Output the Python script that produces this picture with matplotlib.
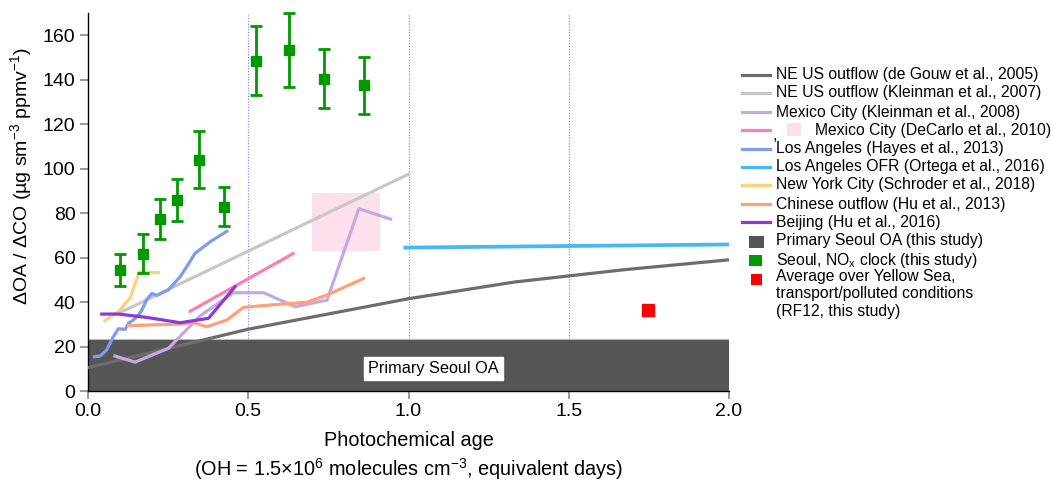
import matplotlib
matplotlib.use("Agg")
import matplotlib.pyplot as plt
from matplotlib.lines import Line2D
from matplotlib.patches import Rectangle

plt.rcParams['font.family'] = ['Liberation Sans', 'DejaVu Sans']

# ---- data ----
degouw_x = [0.0, 0.5, 1.0, 1.33, 1.67, 2.0]
degouw_y = [10.5, 27.8, 41.5, 49.0, 54.5, 59.0]

kleinman07_x = [0.092, 1.0]
kleinman07_y = [34.7, 97.5]

kleinman08_x = [0.084, 0.147, 0.251, 0.35, 0.454, 0.548, 0.647, 0.746, 0.845, 0.944]
kleinman08_y = [15.7, 13.0, 19.2, 33.8, 44.2, 44.2, 37.9, 40.9, 82.0, 77.3]

decarlo_x = [0.319, 0.64]
decarlo_y = [35.9, 61.8]
decarlo_box_x = [0.70, 0.91]
decarlo_box_y = [63.0, 89.0]

hayes_x = [0.02, 0.0375, 0.058, 0.079, 0.095, 0.116, 0.126, 0.142, 0.157, 0.168,
           0.183, 0.199, 0.215, 0.251, 0.2875, 0.308, 0.334, 0.381, 0.433]
hayes_y = [15.4, 15.7, 18.4, 24.4, 28.0, 27.7, 30.4, 32.0, 34.0, 36.4,
           41.0, 43.9, 43.0, 45.5, 51.4, 55.9, 61.9, 67.1, 71.8]

ortega_x = [0.99, 2.0]
ortega_y = [64.5, 65.9]

schroder_x = [0.053, 0.095, 0.131, 0.16, 0.22]
schroder_y = [31.6, 35.7, 41.7, 53.6, 53.2]

hu13_x = [0.126, 0.2875, 0.329, 0.371, 0.433, 0.485, 0.569, 0.683, 0.746, 0.86]
hu13_y = [29.4, 30.1, 30.7, 28.9, 31.9, 37.6, 38.7, 39.9, 43.2, 50.6]

hu16_x = [0.043, 0.095, 0.183, 0.2875, 0.376, 0.459]
hu16_y = [34.6, 34.6, 33.1, 30.7, 32.7, 46.9]

primary_oa = 23.3

nox_x = [0.10, 0.173, 0.225, 0.279, 0.346, 0.423, 0.525, 0.627, 0.7375, 0.8625]
nox_y = [54.4, 61.6, 77.3, 85.8, 104.1, 82.8, 148.6, 153.3, 140.5, 137.7]
nox_hi = [61.4, 70.6, 86.2, 95.3, 117.0, 91.8, 164.0, 170.0, 153.7, 150.4]
nox_lo = [47.2, 52.9, 68.4, 76.3, 91.4, 74.2, 133.3, 136.5, 127.5, 124.8]

rf12_x = [1.746]
rf12_y = [36.4]

legend_labels = [
    "NE US outflow (de Gouw et al., 2005)",
    "NE US outflow (Kleinman et al., 2007)",
    "Mexico City (Kleinman et al., 2008)",
    "Mexico City (DeCarlo et al., 2010)",
    "Los Angeles (Hayes et al., 2013)",
    "Los Angeles OFR (Ortega et al., 2016)",
    "New York City (Schroder et al., 2018)",
    "Chinese outflow (Hu et al., 2013)",
    "Beijing (Hu et al., 2016)",
    "Primary Seoul OA (this study)",
    "Seoul, NO$_{\\mathregular{x}}$ clock (this study)",
    "Average over Yellow Sea,\ntransport/polluted conditions\n(RF12, this study)",
]

# ---- colours ----
c_degouw = "#6d6d6d"
c_kl07 = "#c8c8c8"
c_kl08 = "#c4a9e6"
c_dec = "#ff7eb0"
c_decbox = "#fde0ec"
c_hayes = "#7b9cf0"
c_ortega = "#45b8f5"
c_schr = "#ffd080"
c_hu13 = "#ffa077"
c_hu16 = "#8a3ad8"
c_prim = "#555555"
c_green = "#009900"
c_red = "#ff0000"

W, H = 1051, 483
fig = plt.figure(figsize=(W / 100, H / 100), dpi=100)
ax = fig.add_axes([88 / W, 92 / H, 641 / W, 378 / H])

lw = 2.3
# primary OA band
ax.axhspan(0, primary_oa, color=c_prim, zorder=1, lw=0)
ax.axhline(primary_oa, color="#bbbbbb", lw=0.8, zorder=1.1)
ax.text(1.078, 10, "Primary Seoul OA", fontsize=11.7, ha="center", va="center",
        bbox=dict(facecolor="white", edgecolor="white", boxstyle="square,pad=0.25"), zorder=5)

# grid lines
for gx in [0.5, 1.0, 1.5, 2.0]:
    ax.axvline(gx, color="#7c7cff", lw=0.8, ls=(0, (1, 1.5)), zorder=0.5)

ax.add_patch(Rectangle((decarlo_box_x[0], decarlo_box_y[0]),
                       decarlo_box_x[1] - decarlo_box_x[0], decarlo_box_y[1] - decarlo_box_y[0],
                       facecolor=c_decbox, edgecolor="none", zorder=1.5))

ax.plot(degouw_x, degouw_y, color=c_degouw, lw=lw, zorder=3)
ax.plot(kleinman07_x, kleinman07_y, color=c_kl07, lw=lw, zorder=3)
ax.plot(kleinman08_x, kleinman08_y, color=c_kl08, lw=lw, zorder=3)
ax.plot(decarlo_x, decarlo_y, color=c_dec, lw=lw, zorder=3)
ax.plot(hayes_x, hayes_y, color=c_hayes, lw=lw, zorder=3)
ax.plot(ortega_x, ortega_y, color=c_ortega, lw=lw + 0.4, zorder=3)
ax.plot(schroder_x, schroder_y, color=c_schr, lw=lw, zorder=3)
ax.plot(hu13_x, hu13_y, color=c_hu13, lw=lw, zorder=3)
ax.plot(hu16_x, hu16_y, color=c_hu16, lw=lw, zorder=3)

yerr = [[y - l for y, l in zip(nox_y, nox_lo)], [h - y for y, h in zip(nox_y, nox_hi)]]
ax.errorbar(nox_x, nox_y, yerr=yerr, fmt="s", color=c_green, ms=7, elinewidth=2,
            capsize=4, capthick=2, zorder=4, clip_on=False)
ax.plot(rf12_x, rf12_y, "s", color=c_red, ms=9, zorder=4)

ax.set_xlim(0, 2.0)
ax.set_ylim(0, 170)
ax.set_xticks([0, 0.5, 1.0, 1.5, 2.0])
ax.set_xticklabels(["0.0", "0.5", "1.0", "1.5", "2.0"])
ax.set_yticks(range(0, 170, 20))
ax.spines["top"].set_visible(False)
ax.spines["right"].set_visible(False)
ax.spines["left"].set_linewidth(1.0)
ax.spines["bottom"].set_linewidth(1.0)
ax.tick_params(axis="both", labelsize=14, length=6, width=1.2, color="#888888", pad=3)

ax.set_ylabel("ΔOA / ΔCO (µg sm$^{\\mathregular{-3}}$ ppmv$^{\\mathregular{-1}}$)", fontsize=14)
ax.yaxis.set_label_coords(-0.083, 0.57)
fig.text(408.5 / W, 1 - 441 / H, "Photochemical age", fontsize=14.3, ha="center", va="center")
fig.text(408.5 / W, 1 - 469 / H,
         "(OH = 1.5×10$^{\\mathregular{6}}$ molecules cm$^{\\mathregular{-3}}$, equivalent days)",
         fontsize=14.3, ha="center", va="center")

# ---- manual legend ----
line_colors = [c_degouw, c_kl07, c_kl08, c_dec, c_hayes, c_ortega, c_schr, c_hu13, c_hu16]
rows = [75, 93, 112, 130, 149, 167, 185, 204, 222, 241, 260, 278]
lx0, lx1, tx = 742, 770, 776
lfs = 11.3
for i, col in enumerate(line_colors):
    yy = 1 - rows[i] / H
    fig.add_artist(Line2D([lx0 / W, lx1 / W], [yy, yy], color=col, lw=lw))
    if i == 3:
        fig.text(773 / W, 1 - 136 / H, ",", fontsize=lfs, ha="left", va="center")
        fig.add_artist(Rectangle((787 / W, yy - 6 / H), 14 / W, 13 / H,
                                 facecolor=c_decbox, edgecolor="none"))
        fig.text(815 / W, yy, legend_labels[i], fontsize=lfs, ha="left", va="center")
    else:
        fig.text(tx / W, yy, legend_labels[i], fontsize=lfs, ha="left", va="center")

sq = [(c_prim, 749, 236, 15, 12), (c_green, 749, 255, 13, 11), (c_red, 751, 274, 11, 11)]
for j, (col, x0, y0, w, h) in enumerate(sq):
    fig.add_artist(Rectangle((x0 / W, 1 - (y0 + h) / H), w / W, h / H, facecolor=col, edgecolor="none"))
fig.text(tx / W, 1 - rows[9] / H, legend_labels[9], fontsize=lfs, ha="left", va="center")
fig.text(tx / W, 1 - rows[10] / H, legend_labels[10], fontsize=lfs, ha="left", va="center")
fig.text(tx / W, 1 - 269 / H, legend_labels[11], fontsize=lfs, ha="left", va="top", linespacing=1.2)

fig.savefig("out.png", dpi=100)
